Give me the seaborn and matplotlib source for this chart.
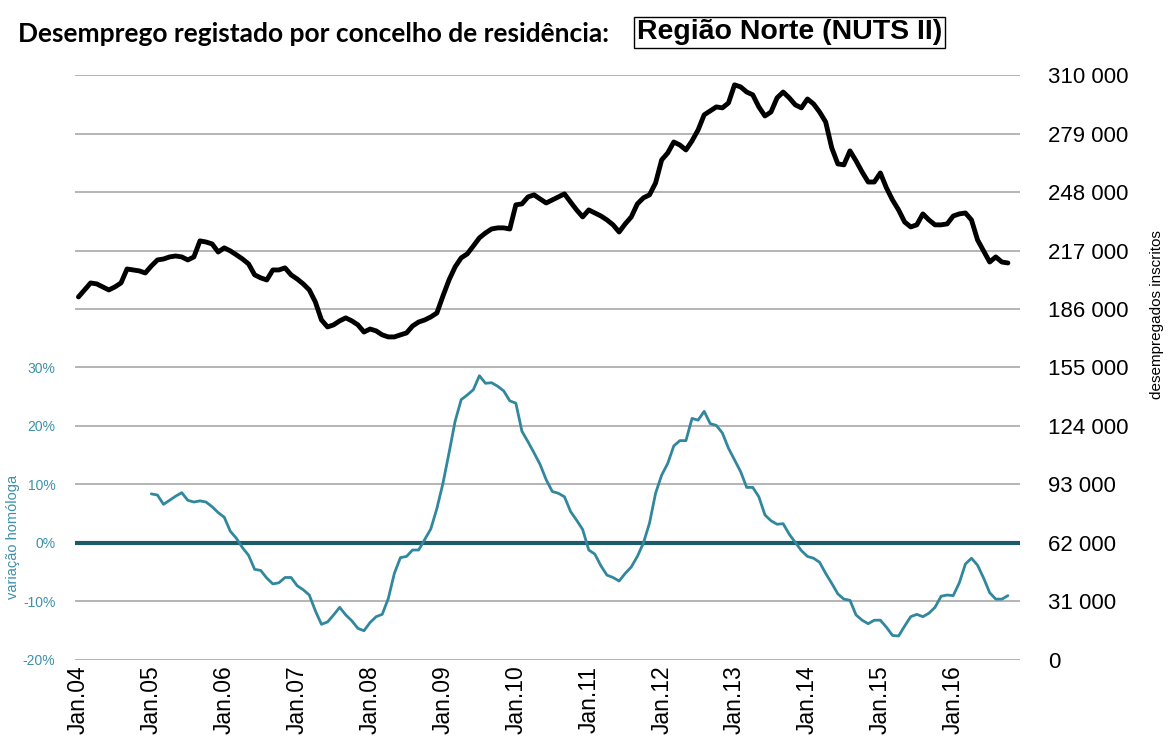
import matplotlib
matplotlib.use("Agg")
import matplotlib.pyplot as plt
import numpy as np
import pandas as pd
import seaborn as sns

sns.set_style("white")
plt.rcParams["font.family"] = ["Liberation Sans", "DejaVu Sans"]
plt.rcParams["text.color"] = "black"
plt.rcParams["axes.labelcolor"] = "black"
plt.rcParams["xtick.color"] = "black"
plt.rcParams["ytick.color"] = "black"

# desempregados inscritos (milhares), mensal Jan.04 - Out.16
inscritos = [
    192.4, 196.1, 199.8, 199.3, 197.7, 196.1, 197.7, 199.8, 207.2, 206.7, 206.2, 205.1,
    208.8, 212.0, 212.5, 213.6, 214.1, 213.6, 212.0, 213.6, 222.1, 221.5, 220.5, 216.2,
    218.4, 216.8, 214.7, 212.5, 209.9, 204.1, 202.5, 201.4, 206.7, 206.7, 207.8, 204.1,
    201.9, 199.3, 196.1, 189.7, 180.2, 176.5, 177.6, 179.7, 181.3, 179.7, 177.6, 173.8,
    175.4, 174.4, 172.3, 171.2, 171.2, 172.3, 173.3, 177.0, 179.1, 180.2, 181.8, 183.9,
    192.9, 201.4, 208.3, 213.1, 215.2, 219.4, 223.7, 226.3, 228.4, 229.0, 229.0, 228.4,
    241.2, 241.7, 245.4, 246.5, 244.3, 242.2, 243.8, 245.4, 247.0, 242.7, 238.5, 234.8,
    238.5, 236.9, 235.3, 233.2, 230.6, 226.8, 231.1, 234.8, 241.7, 244.9, 246.5, 252.8,
    265.0, 268.7, 274.5, 272.9, 270.3, 275.1, 280.9, 288.9, 291.0, 293.1, 292.6, 295.2,
    304.8, 303.7, 301.0, 299.5, 293.1, 288.3, 290.4, 297.9, 301.0, 297.9, 294.2, 292.6,
    297.3, 294.7, 290.4, 285.1, 271.4, 262.9, 262.4, 269.8, 264.5, 258.6, 253.3, 253.3,
    258.1, 250.2, 243.8, 238.5, 232.1, 229.5, 230.6, 236.4, 233.2, 230.6, 230.6, 231.1,
    235.3, 236.4, 236.9, 233.2, 222.6, 216.8, 210.9, 213.6, 210.9, 210.4,
]

# variação homóloga (%), mensal Jan.05 - Out.16
variacao = [
    8.4, 8.2, 6.6, 7.3, 8.0, 8.6, 7.3, 7.0, 7.2, 7.0, 6.2, 5.2,
    4.4, 2.0, 0.8, -0.8, -2.1, -4.5, -4.7, -6.0, -7.0, -6.8, -5.9, -5.9,
    -7.3, -8.0, -8.9, -11.6, -13.9, -13.5, -12.3, -11.0, -12.3, -13.3, -14.6, -15.0,
    -13.6, -12.6, -12.2, -9.5, -5.2, -2.5, -2.3, -1.2, -1.2, 0.6, 2.4, 5.9,
    10.2, 15.4, 20.8, 24.5, 25.3, 26.2, 28.6, 27.3, 27.4, 26.8, 26.0, 24.3,
    23.9, 19.1, 17.3, 15.4, 13.4, 10.8, 8.8, 8.5, 7.9, 5.4, 3.9, 2.3,
    -1.2, -1.9, -3.9, -5.5, -5.9, -6.5, -5.2, -4.1, -2.3, 0.0, 3.4, 8.5,
    11.6, 13.6, 16.6, 17.5, 17.5, 21.3, 21.0, 22.5, 20.4, 20.1, 18.8, 16.2,
    14.2, 12.2, 9.5, 9.5, 7.9, 4.8, 3.8, 3.2, 3.3, 1.5, 0.1, -1.3,
    -2.3, -2.6, -3.3, -5.2, -6.9, -8.7, -9.6, -9.8, -12.3, -13.2, -13.8, -13.2,
    -13.2, -14.4, -15.8, -15.9, -14.2, -12.6, -12.2, -12.6, -12.0, -11.0, -9.1, -8.9,
    -9.0, -6.8, -3.6, -2.6, -3.8, -6.0, -8.5, -9.6, -9.6, -9.0,
]

anos = ["Jan.04", "Jan.05", "Jan.06", "Jan.07", "Jan.08", "Jan.09", "Jan.10",
        "Jan.11", "Jan.12", "Jan.13", "Jan.14", "Jan.15", "Jan.16"]
right_ticks = [0, 31000, 62000, 93000, 124000, 155000, 186000, 217000, 248000, 279000, 310000]
left_ticks = [-20, -10, 0, 10, 20, 30]

teal = "#31879d"
teal_lbl = "#3d90a8"

df_n = pd.DataFrame({"mes": np.arange(len(inscritos)), "valor": np.array(inscritos) * 1000})
df_v = pd.DataFrame({"mes": np.arange(12, 12 + len(variacao)), "valor": variacao})

fig = plt.figure(figsize=(11.69, 7.54), dpi=100)
ax = fig.add_axes([0.064, 0.1247, 0.8086, 0.7758])
ax2 = ax.twinx()

# left axis: variação homóloga
ax.set_ylim(-20, 80)
ax.axhline(0, color="#1f5a6a", lw=3, zorder=2)
sns.lineplot(data=df_v, x="mes", y="valor", ax=ax, color=teal, lw=2, zorder=3)
ax.set_yticks(left_ticks)
ax.set_yticklabels([f"{t}%" for t in left_ticks], color=teal_lbl, fontsize=10)
ax.set_ylabel("variação homóloga", color=teal_lbl, fontsize=10.5, labelpad=2)
ax.yaxis.set_label_coords(-0.058, 0.21)
ax.grid(False)

# right axis: inscritos
ax2.set_ylim(0, 310000)
for t in right_ticks:
    ax2.axhline(t, color="#a0a0a0", lw=1.1, zorder=0)
sns.lineplot(data=df_n, x="mes", y="valor", ax=ax2, color="black", lw=3.5, zorder=4)
ax2.set_yticks(right_ticks)
ax2.set_yticklabels([f"{t:,}".replace(",", " ") for t in right_ticks], fontsize=16)
ax2.tick_params(axis="y", length=0, pad=20)
ax2.set_ylabel("desempregados inscritos", fontsize=11, labelpad=4)
ax2.yaxis.set_label_coords(1.137, 0.59)
ax2.grid(False)

ax.set_zorder(ax2.get_zorder() + 1)
ax.patch.set_visible(False)

ax.set_xlim(-0.6, 155.0)
ax.set_xticks(np.arange(0, 12 * len(anos), 12))
ax.set_xticklabels(anos, rotation=90, fontsize=16.5)
ax.set_xlabel("")
ax2.set_xlabel("")
ax.tick_params(axis="x", length=0, pad=4)
ax.tick_params(axis="y", length=0, pad=14)

for a in (ax, ax2):
    for s in a.spines.values():
        s.set_visible(False)

fig.text(0.0155, 0.955, "Desemprego registado por concelho de residência:",
         fontsize=19, fontweight="bold", family=["Lato", "DejaVu Sans"], va="center", color="black")
fig.text(0.545, 0.957, "Região Norte (NUTS II)", fontsize=20.5, fontweight="bold", va="center",
         color="black", bbox=dict(boxstyle="square,pad=0.1", fc="white", ec="black", lw=1))

fig.savefig("out.png", dpi=100)
